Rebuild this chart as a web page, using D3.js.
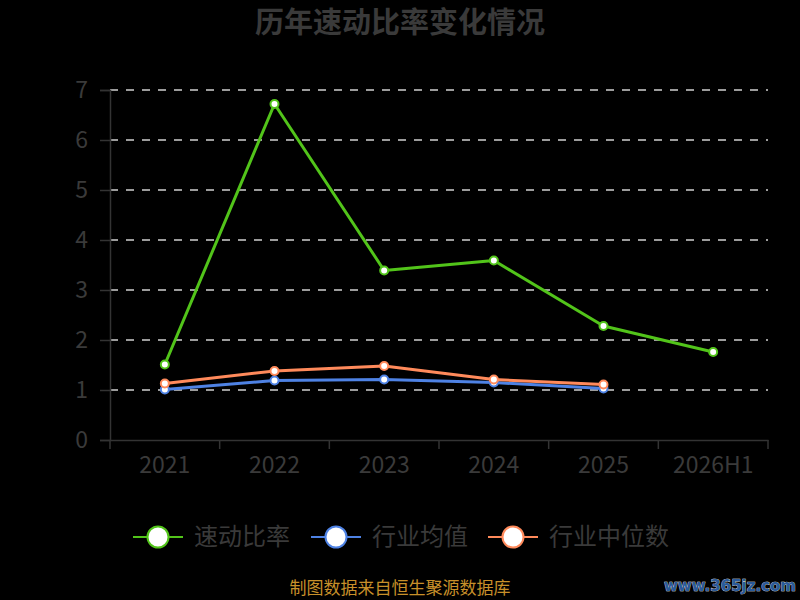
<!DOCTYPE html>
<html><head><meta charset="utf-8">
<script src="https://cdn.jsdelivr.net/npm/d3@7/dist/d3.min.js"></script>
<style>body{margin:0;background:#000;}svg{display:block;}</style>
</head><body>
<svg id="c" width="800" height="600"></svg>
<script>
const categories = ["2021","2022","2023","2024","2025","2026H1"];
const quickRatio = [1.51, 6.72, 3.39, 3.59, 2.28, 1.76];
const industryMean = [1.01, 1.19, 1.21, 1.15, 1.03];
const industryMedian = [1.13, 1.38, 1.48, 1.21, 1.11];
const yTicks = [0,1,2,3,4,5,6,7];
const seriesNames = ["速动比率","行业均值","行业中位数"];
const colors = ["#52c41a","#4e82e4","#ff8a5b"];

const svg = d3.select("#c");
const font = "'Noto Sans CJK SC','Noto Sans',sans-serif";
const L = 110, R = 768, T = 90, B = 440;
const x = d3.scaleBand().domain(categories).range([L, R]);
const y = d3.scaleLinear().domain([0, 7]).range([B, T]);

svg.append("rect").attr("width",800).attr("height",600).attr("fill","#000");

svg.append("text").attr("x",400).attr("y",33).attr("text-anchor","middle")
  .attr("font-family",font).attr("font-size",29).attr("font-weight","bold")
  .attr("fill","#3a3a3a").text("历年速动比率变化情况");

// grid
svg.append("g").selectAll("line").data(yTicks.filter(d=>d>0)).join("line")
  .attr("x1",L).attr("x2",R).attr("y1",d=>y(d)).attr("y2",d=>y(d))
  .attr("stroke","#d0d0d0").attr("stroke-width",1.5).attr("stroke-dasharray","8,8");

// y axis
const ya = svg.append("g").attr("transform",`translate(${L},0)`)
  .call(d3.axisLeft(y).tickValues(yTicks).tickFormat(d3.format("d")).tickSize(10).tickPadding(12));
ya.select(".domain").attr("stroke","#333").attr("stroke-width",1.5);
ya.selectAll(".tick line").attr("stroke","#333").attr("stroke-width",1.5);
ya.selectAll("text").attr("font-family",font).attr("font-size",23).attr("fill","#3a3a3a");

// x axis
const xa = svg.append("g").attr("transform",`translate(0,${B})`)
  .call(d3.axisBottom(x).tickSize(0).tickPadding(17));
xa.select(".domain").attr("stroke","#333").attr("stroke-width",1.5);
xa.selectAll("text").attr("font-family",font).attr("font-size",23).attr("fill","#3a3a3a");
const bounds = categories.map(c=>x(c)).concat([R]);
svg.append("g").selectAll("line").data(bounds).join("line")
  .attr("x1",d=>d).attr("x2",d=>d).attr("y1",B).attr("y2",B+9)
  .attr("stroke","#333").attr("stroke-width",1.5);

const cx = (c)=>x(c)+x.bandwidth()/2;
const seriesData = [quickRatio, industryMean, industryMedian];
seriesData.forEach((vals,i)=>{
  const pts = vals.map((v,j)=>({c:categories[j],v}));
  svg.append("path").datum(pts)
    .attr("d", d3.line().x(d=>cx(d.c)).y(d=>y(d.v)))
    .attr("fill","none").attr("stroke",colors[i]).attr("stroke-width",3).attr("stroke-linejoin","round");
  svg.append("g").selectAll("circle").data(pts).join("circle")
    .attr("cx",d=>cx(d.c)).attr("cy",d=>y(d.v)).attr("r",4)
    .attr("fill","#fff").attr("stroke",colors[i]).attr("stroke-width",2);
});

// legend
const legendX = [158, 336, 513];
seriesNames.forEach((n,i)=>{
  const g = svg.append("g");
  g.append("line").attr("x1",legendX[i]-25).attr("x2",legendX[i]+25).attr("y1",537).attr("y2",537)
    .attr("stroke",colors[i]).attr("stroke-width",2);
  g.append("circle").attr("cx",legendX[i]).attr("cy",537).attr("r",10.5)
    .attr("fill","#fff").attr("stroke",colors[i]).attr("stroke-width",2);
  g.append("text").attr("x",legendX[i]+36).attr("y",545).attr("font-family",font)
    .attr("font-size",24).attr("fill","#3a3a3a").text(n);
});

svg.append("text").attr("x",400).attr("y",594).attr("text-anchor","middle")
  .attr("font-family",font).attr("font-size",17).attr("fill","#c8902a").text("制图数据来自恒生聚源数据库");
svg.append("text").attr("x",796).attr("y",591).attr("text-anchor","end")
  .attr("font-family","'DejaVu Sans',sans-serif").attr("font-size",15).attr("font-weight","bold")
  .attr("fill","#2a5a9a").attr("stroke","#fff").attr("stroke-width",0.6).attr("paint-order","stroke")
  .text("www.365jz.com");
</script>
</body></html>
